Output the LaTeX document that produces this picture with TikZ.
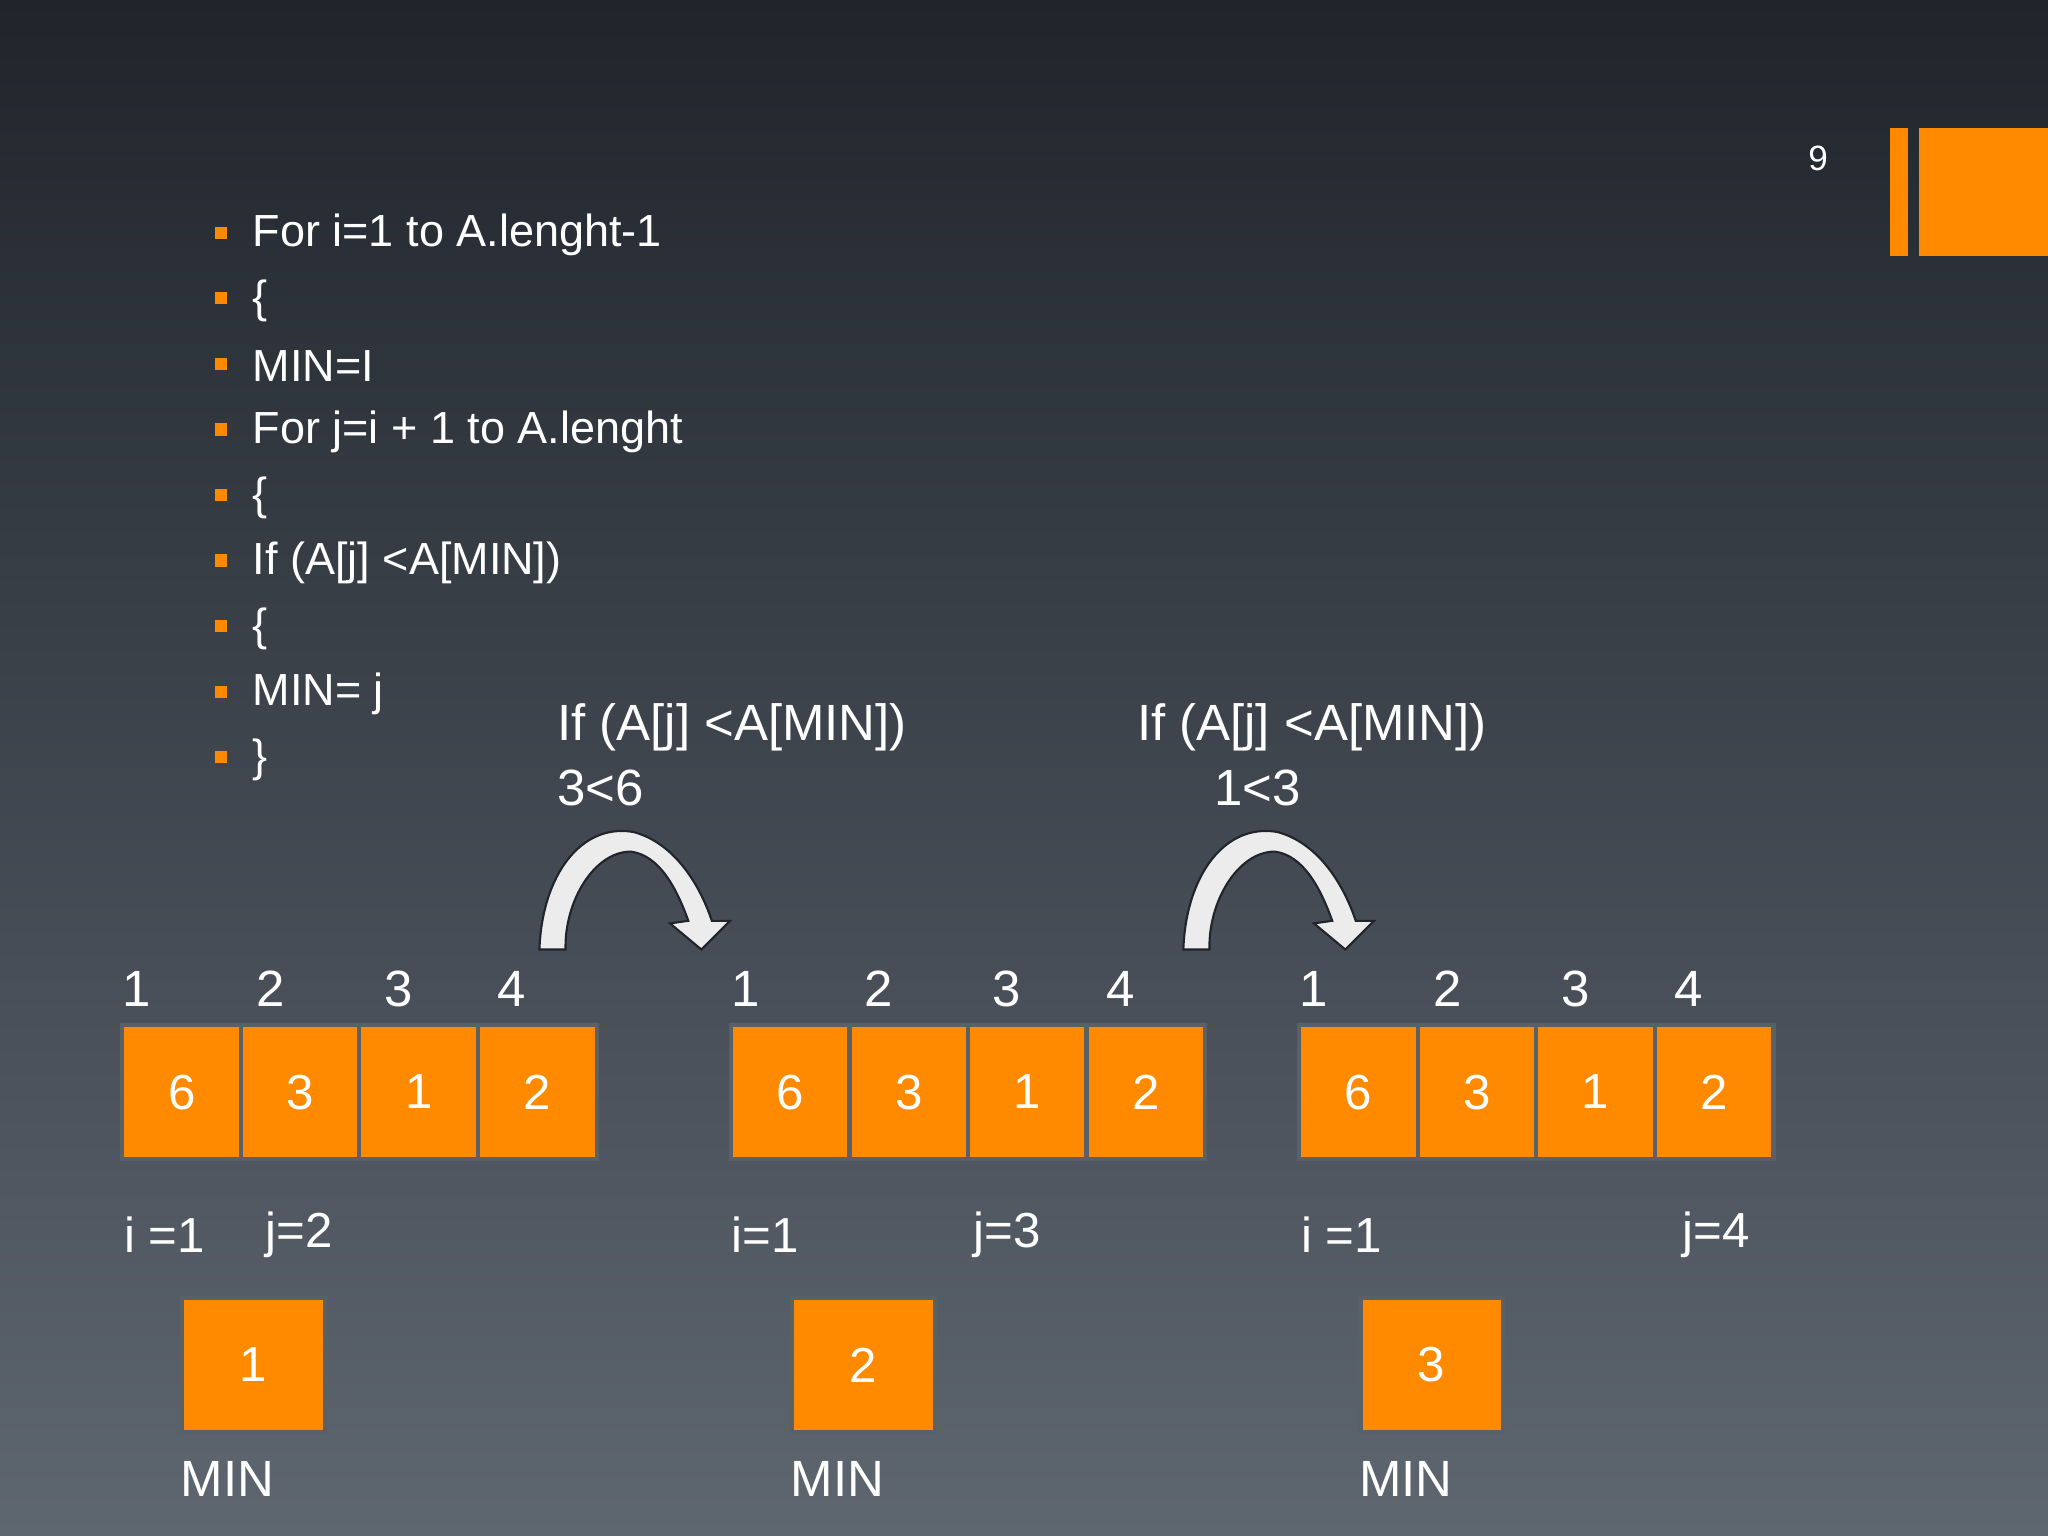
\documentclass[tikz,border=0pt]{standalone}
\usepackage{fontspec}
\setmainfont{Liberation Sans}
\usetikzlibrary{positioning}
\definecolor{slideorange}{HTML}{FF8A00}
\definecolor{bgtop}{HTML}{20252C}
\definecolor{bgbot}{HTML}{5E6670}
\definecolor{cellrule}{HTML}{5A6068}
\tikzset{
  cell/.style={draw=cellrule,line width=1.2pt,fill=slideorange,text=white,minimum width=91*0.01306cm,minimum height=103*0.01306cm,inner sep=0pt,font=\fontsize{14}{16}\selectfont},
  minbox/.style={cell,minimum width=109*0.01306cm,minimum height=103*0.01306cm},
  txt/.style={text=white,font=\fontsize{13}{15}\selectfont,inner sep=0pt},
  big/.style={txt,font=\fontsize{14.5}{17}\selectfont},
  code/.style={txt,anchor=west,font=\fontsize{12.8}{15}\selectfont},
  cond/.style={big,anchor=west},
  bullet/.style={fill=slideorange,minimum size=3.5pt,inner sep=0pt},
  bendarrow/.style={fill=white!85!gray,draw=bgtop,line width=0.6pt}
}
\begin{document}
\begin{tikzpicture}[x=0.01306cm,y=-0.01306cm]
\shade[top color=bgtop,bottom color=bgbot] (0,0) rectangle (1568,1176);
\useasboundingbox (0,0) rectangle (1568,1176);
% corner marks
\fill[slideorange] (1447,98) rectangle (1461,196);
\fill[slideorange] (1469,98) rectangle (1568,196);
\node[txt,font=\fontsize{10}{12}\selectfont] (page) at (1392,121) {9};
% code lines
\foreach \t [count=\k] in {For i=1 to A.lenght-1,\{,MIN=I,For j=i + 1 to A.lenght,\{,If (A[j] <A[MIN]),\{,MIN= j,\}}{
  \node[bullet] (b\k) at (169,{128+50.2*\k}) {};
  \node[code] (c\k) at (193,{130+50.2*\k}) {\t};
}
% conditions
\node[cond] (if1) at (426,557) {If (A[j] <A[MIN])};
\node[cond] (lt1) at (426,603) {3<6};
\node[cond] (if2) at (870,557) {If (A[j] <A[MIN])};
\node[cond] (lt2) at (929,603) {1<3};
% curved arrows
\foreach \dx in {0,493}{
\begin{scope}[xshift=\dx*0.01306cm]
\path[bendarrow] (413,727) .. controls (415,670) and (445,630) .. (485,637)
  .. controls (515,645) and (535,675) .. (545,705) -- (559,705) -- (537,727) -- (513,707) -- (527,705)
  .. controls (518,680) and (505,655) .. (483,652)
  .. controls (455,652) and (432,690) .. (433,727) -- cycle;
\end{scope}}
% arrays
\foreach \ax/\n/\ix/\jx/\iname/\jname/\mx in {92/1/126/229/{i =1}/{j=2}/138, 558/2/586/771/{i=1}/{j=3}/605, 993/3/1027/1314/{i =1}/{j=4}/1040}{
  \foreach \v [count=\c] in {6,3,1,2}{
    \node[cell,anchor=north west] (a\n\c) at ({\ax+90.75*(\c-1)},783) {\v};
  }
  \foreach \lx [count=\c] in {13,115,213,300}{
    \node[big] (h\n\c) at (\ax+\lx,757) {\c};
  }
  \node[big,font=\fontsize{14}{16}\selectfont] (i\n) at (\ix,945) {\iname};
  \node[big,font=\fontsize{14}{16}\selectfont] (j\n) at (\jx,945) {\jname};
  \node[minbox,anchor=north west] (m\n) at (\mx,992) {\n};
  \node[big,below=20*0.01306cm of m\n.south west,anchor=north west] (ml\n) {MIN};
}
\end{tikzpicture}
\end{document}
